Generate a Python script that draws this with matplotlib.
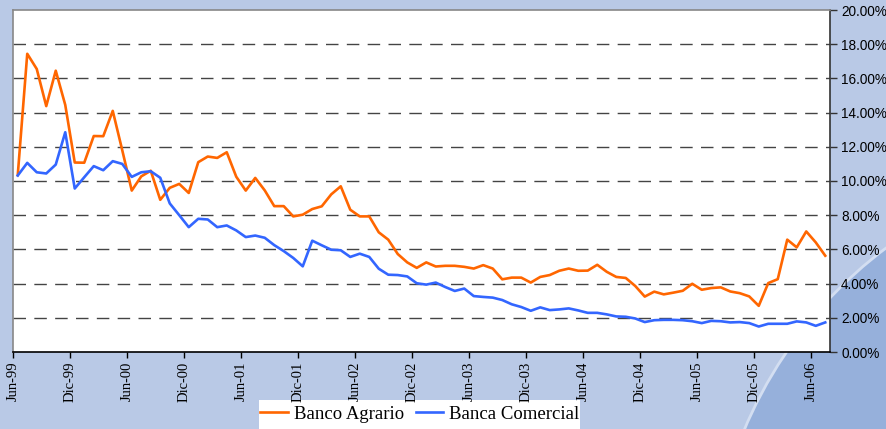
import numpy as np
import matplotlib
matplotlib.use("Agg")
import matplotlib.pyplot as plt
from matplotlib.patches import Circle, Rectangle
from matplotlib.lines import Line2D

# ---- data (monthly, Jun-99 .. Jul-06), percent ----
tick_labels = ["Jun-99", "Dic-99", "Jun-00", "Dic-00", "Jun-01", "Dic-01", "Jun-02",
               "Dic-02", "Jun-03", "Dic-03", "Jun-04", "Dic-04", "Jun-05", "Dic-05", "Jun-06"]

banco_agrario = [10.35, 17.44, 16.55, 14.38, 16.45, 14.45, 11.08, 11.07, 12.63, 12.62,
                 14.10, 11.80, 9.44, 10.27, 10.60, 8.90, 9.60, 9.83, 9.30, 11.10,
                 11.43, 11.35, 11.68, 10.25, 9.44, 10.18, 9.45, 8.53, 8.53, 7.93,
                 8.03, 8.36, 8.52, 9.22, 9.69, 8.32, 7.93, 7.93, 7.00, 6.57,
                 5.73, 5.24, 4.92, 5.24, 5.00, 5.04, 5.04, 4.98, 4.88, 5.08,
                 4.88, 4.25, 4.35, 4.35, 4.06, 4.39, 4.50, 4.75, 4.88, 4.75,
                 4.76, 5.10, 4.69, 4.39, 4.33, 3.86, 3.24, 3.53, 3.37, 3.47,
                 3.58, 3.99, 3.64, 3.74, 3.78, 3.54, 3.44, 3.25, 2.70, 4.03,
                 4.26, 6.57, 6.12, 7.05, 6.41, 5.63]

banca_comercial = [10.32, 11.06, 10.51, 10.44, 10.96, 12.85, 9.56, 10.22, 10.87, 10.63,
                   11.16, 11.00, 10.24, 10.51, 10.57, 10.19, 8.69, 8.00, 7.30, 7.79,
                   7.75, 7.30, 7.40, 7.11, 6.72, 6.81, 6.68, 6.25, 5.90, 5.50,
                   5.01, 6.51, 6.24, 5.98, 5.95, 5.56, 5.75, 5.56, 4.87, 4.52,
                   4.50, 4.42, 4.02, 3.94, 4.06, 3.80, 3.57, 3.71, 3.27, 3.22,
                   3.18, 3.04, 2.79, 2.63, 2.41, 2.61, 2.45, 2.49, 2.55, 2.43,
                   2.29, 2.29, 2.20, 2.08, 2.06, 1.96, 1.75, 1.86, 1.88, 1.88,
                   1.86, 1.80, 1.69, 1.82, 1.80, 1.73, 1.75, 1.69, 1.49, 1.65,
                   1.65, 1.65, 1.79, 1.73, 1.53, 1.73]

series_names = ["Banco Agrario", "Banca Comercial"]
y_ticks = [0, 2, 4, 6, 8, 10, 12, 14, 16, 18, 20]

# ---- figure ----
W, H = 887, 429
fig = plt.figure(figsize=(W / 100, H / 100), dpi=100)
fig.patch.set_facecolor("#B9C9E6")

# darker arc region bottom-right (behind the axes)
fig.patches.append(Circle((1150, H - 600), 440, transform=None,
                          facecolor="#96B0DB", edgecolor="#D3DEF1", linewidth=2.0, zorder=-5))

left, right, top, bottom = 13, 830, 10, 352
ax = fig.add_axes([left / W, 1 - bottom / H, (right - left) / W, (bottom - top) / H])
ax.set_zorder(2)
ax.set_facecolor("white")

x = np.arange(len(banco_agrario))
ax.plot(x, banco_agrario, color="#FF6600", lw=1.9, zorder=3)
ax.plot(x, banca_comercial, color="#3366FF", lw=1.9, zorder=3)

ax.set_xlim(-0.5, len(x) - 0.5)
ax.set_ylim(0, 20)

ax.yaxis.tick_right()
ax.set_yticks(y_ticks)
ax.set_yticklabels([f"{v:.2f}%" for v in y_ticks], fontfamily="Liberation Sans", fontsize=9.8)
ax.tick_params(axis="y", direction="out", length=5, width=1, color="#333333", pad=3)

ax.set_xticks([i * 6 - 0.5 for i in range(len(tick_labels))])
ax.set_xticklabels(tick_labels, rotation=90, fontfamily="Liberation Serif", fontsize=10.5,
                   va="top", ha="center")
ax.tick_params(axis="x", direction="out", length=4, width=1, color="black", pad=3)

for v in y_ticks[1:-1]:
    ax.axhline(v, color="#444444", lw=1.0, dashes=(9, 6), zorder=1)

for s in ["left", "top"]:
    ax.spines[s].set_color("#888888")
    ax.spines[s].set_linewidth(1.2)
ax.spines["bottom"].set_color("black")
ax.spines["bottom"].set_linewidth(1.2)
ax.spines["right"].set_color("#333333")
ax.spines["right"].set_linewidth(1.2)

# legend box
fig.patches.append(Rectangle((259 / W, 0), (580 - 259) / W, 29 / H, transform=fig.transFigure,
                             facecolor="white", edgecolor="none", zorder=1))
handles = [Line2D([], [], color="#FF6600", lw=1.9), Line2D([], [], color="#3366FF", lw=1.9)]
leg = fig.legend(handles, series_names, loc="center", bbox_to_anchor=(420 / W, 1 - 414 / H),
                 ncol=2, frameon=False, prop={"family": "Liberation Serif", "size": 13.5},
                 handlelength=1.45, handletextpad=0.35, columnspacing=0.6,
                 borderpad=0, borderaxespad=0)
leg.set_zorder(3)

fig.savefig("out.png", dpi=100, facecolor=fig.get_facecolor())
